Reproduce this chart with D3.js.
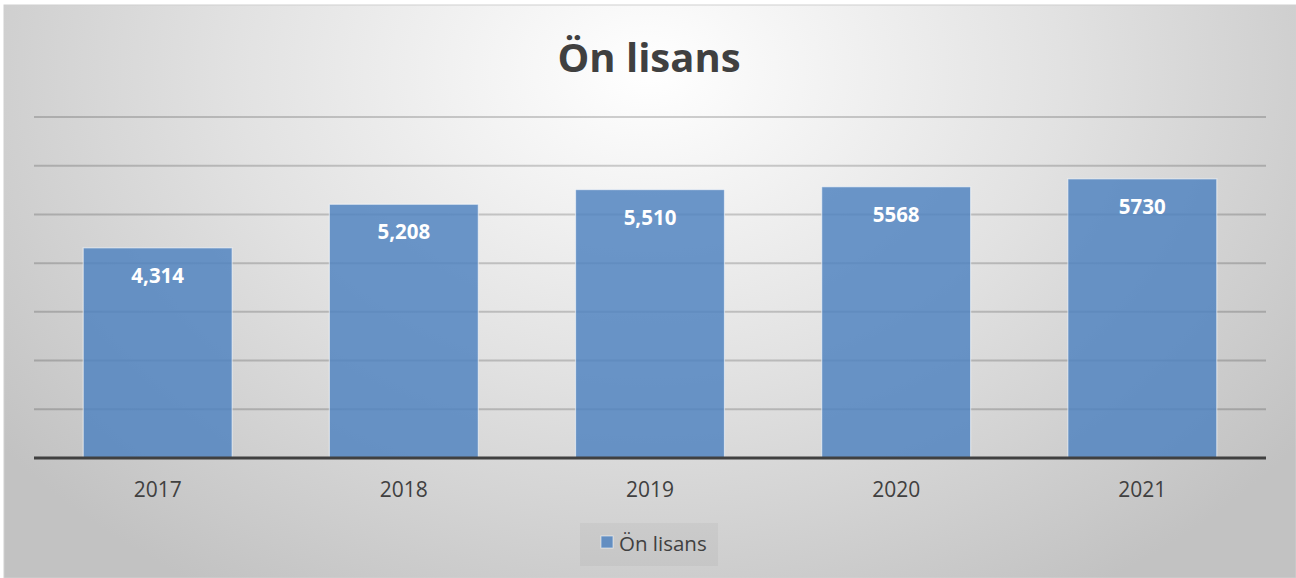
<!DOCTYPE html>
<html><head><meta charset="utf-8">
<script src="https://cdn.jsdelivr.net/npm/d3@7"></script>
<style>html,body{margin:0;padding:0;background:#fff;}svg{display:block;}</style>
</head><body>
<svg id="c" width="1296" height="578"></svg>
<script>
const categories = ["2017","2018","2019","2020","2021"];
const values = [4314, 5208, 5510, 5568, 5730];
const valueLabels = ["4,314","5,208","5,510","5568","5730"];
const yTicks = [0,1000,2000,3000,4000,5000,6000,7000];
const title = "Ön lisans";
const seriesName = "Ön lisans";

const svg = d3.select("#c");
const defs = svg.append("defs");
const grad = defs.append("radialGradient").attr("id","bg")
  .attr("gradientUnits","userSpaceOnUse").attr("cx",648).attr("cy",70).attr("r",820)
  .attr("gradientTransform","translate(648,70) scale(1,0.75) translate(-648,-70)");
grad.append("stop").attr("offset","0").attr("stop-color","#ffffff");
grad.append("stop").attr("offset","0.5").attr("stop-color","#e2e2e2");
grad.append("stop").attr("offset","1").attr("stop-color","#c2c2c2");

svg.append("rect").attr("x",4).attr("y",5).attr("width",1292).attr("height",573)
  .attr("fill","url(#bg)").attr("stroke","#d0d0d0").attr("stroke-width",1);

const font = "'Open Sans', sans-serif";
const barFill = "rgba(80,131,192,0.84)";
svg.append("text").attr("x",649).attr("y",72).attr("text-anchor","middle")
  .attr("font-family",font).attr("font-weight","bold").attr("font-size",40)
  .attr("fill","#404040").text(title);

const x = d3.scaleBand().domain(categories).range([34,1266]).paddingInner(0.395).paddingOuter(0.2);
const y = d3.scaleLinear().domain([0,7000]).range([458,117]);

const grid = svg.append("g");
grid.selectAll("line").data(yTicks.filter(d=>d>0)).join("line")
  .attr("x1",34).attr("x2",1266).attr("y1",d=>y(d)).attr("y2",d=>y(d))
  .attr("stroke","rgba(0,0,0,0.18)").attr("stroke-width",2);

svg.append("g").selectAll("rect").data(values).join("rect")
  .attr("x",(d,i)=>x(categories[i])).attr("width",x.bandwidth())
  .attr("y",d=>y(d)).attr("height",d=>y(0)-y(d))
  .attr("fill",barFill).attr("stroke","rgba(255,255,255,0.55)").attr("stroke-width",1.2);

svg.append("line").attr("x1",34).attr("x2",1266).attr("y1",y(0)).attr("y2",y(0))
  .attr("stroke","#404040").attr("stroke-width",3);

svg.append("g").selectAll("text").data(values).join("text")
  .attr("x",(d,i)=>x(categories[i])+x.bandwidth()/2).attr("y",d=>y(d)+35)
  .attr("text-anchor","middle").attr("font-family",font).attr("font-weight","bold")
  .attr("font-size",20.5).attr("fill","#ffffff").text((d,i)=>valueLabels[i]);

const xAxis = svg.append("g").attr("transform",`translate(0,${y(0)})`)
  .call(d3.axisBottom(x).tickSize(0).tickPadding(24));
xAxis.select(".domain").remove();
xAxis.selectAll("text").attr("font-family",font).attr("font-size",21).attr("fill","#404040");

const lg = svg.append("g");
lg.append("rect").attr("x",580).attr("y",523).attr("width",138).attr("height",43)
  .attr("fill","rgba(0,0,0,0.035)");
lg.append("rect").attr("x",601).attr("y",536).attr("width",12).attr("height",12)
  .attr("fill",barFill).attr("stroke","rgba(255,255,255,0.55)");
lg.append("text").attr("x",619).attr("y",551).attr("font-family",font).attr("font-size",20.5)
  .attr("fill","#404040").text(seriesName);
</script>
</body></html>
